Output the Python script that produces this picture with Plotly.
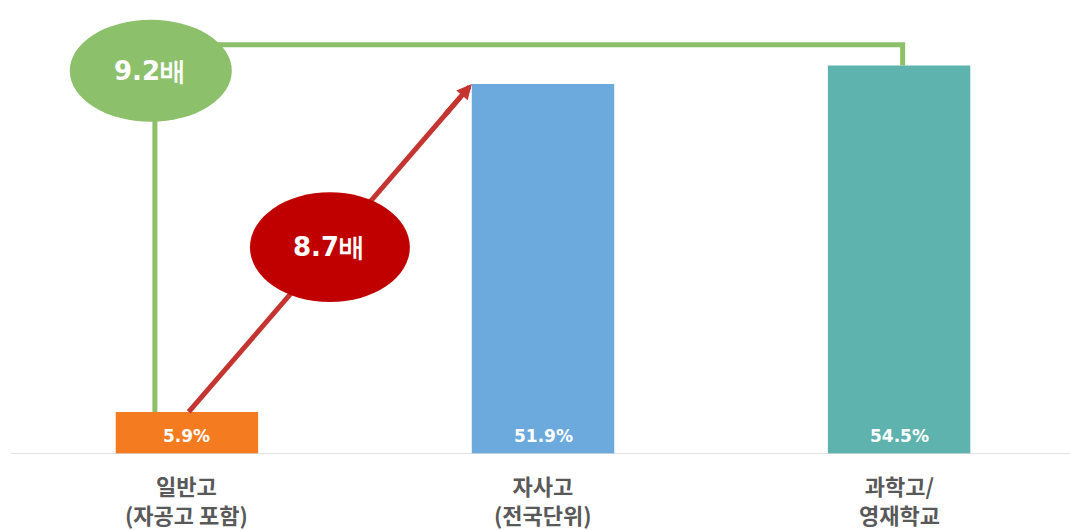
import plotly.graph_objects as go

# ---- data ----
categories = ["일반고", "자사고", "과학고/영재학교"]
label_line1 = ["일반고", "자사고", "과학고/"]
label_line2 = ["(자공고 포함)", "(전국단위)", "영재학교"]
values = [5.9, 51.9, 54.5]
bar_colors = ["#F47B20", "#6CAADD", "#5FB3AE"]
ratio_general_vs_jasa = "8.7배"
ratio_general_vs_sci = "9.2배"

GREEN = "#8DC06A"
RED_LINE = "#C43430"
RED_FILL = "#C00000"
LABEL_FONT = "Noto Sans CJK KR"

x_idx = list(range(len(categories)))

fig = go.Figure()
fig.add_trace(go.Bar(
    x=x_idx,
    y=values,
    width=0.4,
    marker=dict(color=bar_colors, line=dict(width=0)),
    hoverinfo="skip",
))

shapes = []
# green connector: 일반고 -> 과학고/영재학교
gx0 = -0.09
g_top = 57.4
gx1 = 2.01
shapes.append(dict(type="line", xref="x", yref="y", x0=gx0, y0=values[0], x1=gx0, y1=53.7,
                   line=dict(color=GREEN, width=5), layer="above"))
shapes.append(dict(type="path", xref="x", yref="y",
                   path=f"M {-0.1} {g_top} L {gx1} {g_top} L {gx1} {values[2]}",
                   line=dict(color=GREEN, width=5), layer="above"))
shapes.append(dict(type="circle", xref="x", yref="y", x0=-0.329, x1=0.126, y0=46.6, y1=60.9,
                   fillcolor=GREEN, line=dict(width=0), layer="above"))
# red arrow line: 일반고 -> 자사고
rx0, ry0 = 0.005, values[0]
rx1, ry1 = 0.8, values[1]
shapes.append(dict(type="line", xref="x", yref="y", x0=rx0, y0=ry0,
                   x1=rx0 + (rx1 - rx0) * 0.96, y1=ry0 + (ry1 - ry0) * 0.96,
                   line=dict(color=RED_LINE, width=5), layer="above"))
shapes.append(dict(type="circle", xref="x", yref="y", x0=0.177, x1=0.626, y0=21.3, y1=36.7,
                   fillcolor=RED_FILL, line=dict(width=0), layer="above"))

annotations = []
# arrowhead
annotations.append(dict(x=rx1, y=ry1, xref="x", yref="y",
                        ax=rx0 + (rx1 - rx0) * 0.9, ay=ry0 + (ry1 - ry0) * 0.9,
                        axref="x", ayref="y", text="", showarrow=True,
                        arrowhead=2, arrowsize=0.6, arrowwidth=5, arrowcolor=RED_LINE))
annotations.append(dict(x=-0.104, y=53.7, xref="x", yref="y", text=f"<b>{ratio_general_vs_sci}</b>",
                        showarrow=False, font=dict(family="DejaVu Sans", size=26, color="white")))
annotations.append(dict(x=0.40, y=29.0, xref="x", yref="y", text=f"<b>{ratio_general_vs_jasa}</b>",
                        showarrow=False, font=dict(family="DejaVu Sans", size=26, color="white")))
# value labels inside bars
for i in x_idx:
    annotations.append(dict(x=i, y=0, xref="x", yref="y", yanchor="middle", yshift=18,
                            text=f"<b>{values[i]}%</b>", showarrow=False,
                            font=dict(family="DejaVu Sans", size=17, color="white")))
# category labels (two lines)
for i in x_idx:
    annotations.append(dict(x=i, y=0, xref="x", yref="y", yanchor="top", yshift=-14,
                            text=f"<b>{label_line1[i]}</b><br><b>{label_line2[i]}</b>",
                            showarrow=False, borderpad=0,
                            font=dict(family=LABEL_FONT, size=22, color="#595959")))

fig.update_layout(
    width=1070, height=530,
    margin=dict(l=0, r=0, t=0, b=76),
    paper_bgcolor="white", plot_bgcolor="white",
    showlegend=False,
    shapes=shapes,
    annotations=annotations,
    xaxis=dict(range=[-0.525, 2.48], showticklabels=False, showgrid=False, zeroline=False,
               showline=False, tickvals=x_idx, ticktext=categories, fixedrange=True),
    yaxis=dict(range=[0, 63.67], visible=False, showgrid=False, zeroline=False, fixedrange=True),
)
# baseline axis line
fig.add_shape(type="line", xref="paper", yref="y", x0=0.01, x1=1.0, y0=0, y1=0,
              line=dict(color="#D9D9D9", width=1.5), layer="above")

fig.write_html("out.html")
